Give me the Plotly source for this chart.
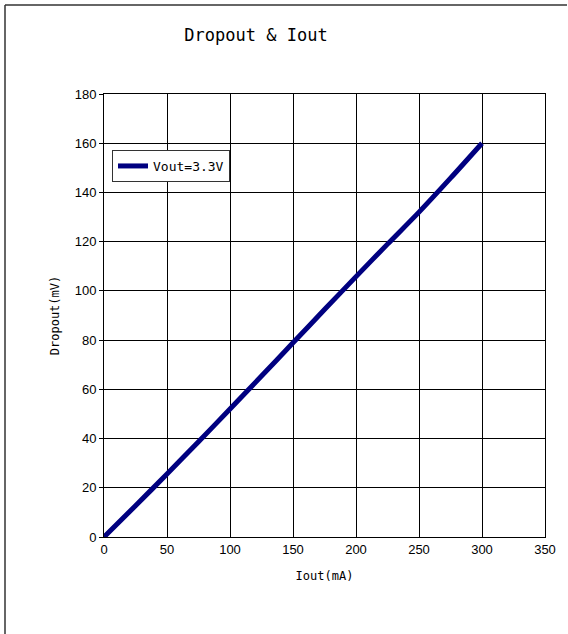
import plotly.graph_objects as go

iout_ma = [0, 25, 50, 75, 100, 125, 150, 175, 200, 225, 250, 275, 300]
dropout_mv = [0, 12.7, 25.6, 38.7, 52, 65.4, 78.9, 92.4, 105.8, 119, 132, 145.8, 160]
series_name = "Vout=3.3V"

x_ticks = [0, 50, 100, 150, 200, 250, 300, 350]
y_ticks = [0, 20, 40, 60, 80, 100, 120, 140, 160, 180]

mono = "DejaVu Sans Mono"
sans = "Liberation Sans, Arial"

fig = go.Figure()
fig.add_trace(go.Scatter(
    x=iout_ma, y=dropout_mv, mode="lines", name=series_name,
    line=dict(color="#000080", width=5, shape="spline", smoothing=0.8),
))

W, H = 568, 634
L, R, T, B = 104, 23, 94, 97
pw, ph = W - L - R, H - T - B

def px_x(p):
    return (p - L) / pw

def px_y(p):
    return (H - B - p) / ph

fig.update_layout(
    width=W, height=H,
    margin=dict(l=L, r=R, t=T, b=B),
    paper_bgcolor="white", plot_bgcolor="white",
    title=dict(text="Dropout & Iout", xref="container", yref="container",
               x=256 / W, xanchor="center", y=1 - 35 / H, yanchor="middle",
               font=dict(family=mono, size=17, color="black")),
    showlegend=True,
    legend=dict(x=px_x(112), y=px_y(150), xanchor="left", yanchor="top",
                bgcolor="white", bordercolor="#333333", borderwidth=1,
                font=dict(family=mono, size=13, color="black"),
                tracegroupgap=0),
    xaxis=dict(range=[0, 350], tickvals=x_ticks, showgrid=True, gridcolor="black",
               gridwidth=1, showline=True, linecolor="black", linewidth=1, mirror=True,
               zeroline=False, ticks="", tickfont=dict(family=sans, size=13, color="black"),
               title=dict(text="Iout(mA)", font=dict(family=mono, size=12, color="black"),
                          standoff=16)),
    yaxis=dict(range=[0, 180], tickvals=y_ticks, showgrid=True, gridcolor="black",
               gridwidth=1, showline=True, linecolor="black", linewidth=1, mirror=True,
               zeroline=False, ticks="outside", ticklen=4, tickcolor="black",
               tickfont=dict(family=sans, size=13, color="black"),
               title=dict(text="Dropout(mV)", font=dict(family=mono, size=12, color="black"),
                          standoff=12)),
    shapes=[
        dict(type="line", xref="paper", yref="paper", x0=px_x(5), x1=px_x(5),
             y0=px_y(5), y1=px_y(H + 5), line=dict(color="#333333", width=1.5)),
        dict(type="line", xref="paper", yref="paper", x0=px_x(5), x1=px_x(567),
             y0=px_y(5), y1=px_y(5), line=dict(color="#333333", width=1.5)),
    ],
)

fig.write_html("out.html", config={"displayModeBar": False},
               post_script="document.body.style.margin='0';document.body.style.overflow='hidden';")
